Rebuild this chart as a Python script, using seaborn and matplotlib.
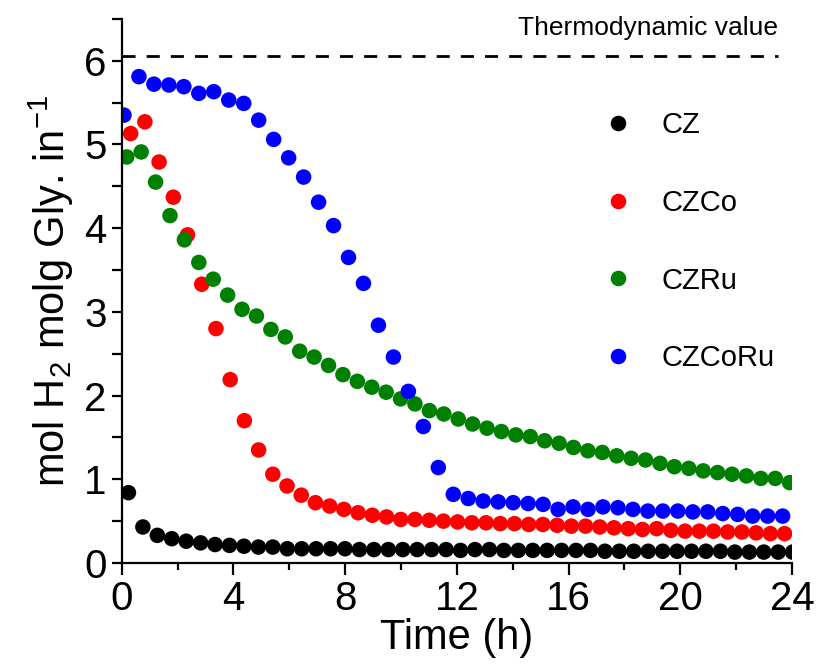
import numpy as np
import pandas as pd
import matplotlib
matplotlib.use("Agg")
import matplotlib.pyplot as plt
from matplotlib.lines import Line2D
import seaborn as sns

# sampling grid of each run (start, step in h, number of points)
t_cz = 0.24 + 0.517 * np.arange(47)
t_czco = 0.32 + 0.509 * np.arange(47)
t_czru = 0.18 + 0.516 * np.arange(47)
t_czcoru = 0.08 + 0.536 * np.arange(45)

cz = [0.84, 0.43, 0.33, 0.29, 0.26, 0.24, 0.22, 0.21, 0.20, 0.19,
      0.19, 0.17, 0.17, 0.17, 0.17, 0.17, 0.16, 0.16, 0.16, 0.16,
      0.16, 0.16, 0.16, 0.15, 0.16, 0.16, 0.15, 0.15, 0.15, 0.15,
      0.15, 0.15, 0.15, 0.14, 0.14, 0.14, 0.14, 0.14, 0.14, 0.14,
      0.14, 0.14, 0.13, 0.13, 0.13, 0.13, 0.13]
czco = [5.13, 5.27, 4.79, 4.37, 3.92, 3.33, 2.80, 2.19, 1.70, 1.35,
        1.06, 0.92, 0.81, 0.72, 0.68, 0.64, 0.60, 0.57, 0.55, 0.52,
        0.52, 0.51, 0.50, 0.49, 0.48, 0.48, 0.47, 0.47, 0.46, 0.46,
        0.45, 0.44, 0.44, 0.43, 0.42, 0.41, 0.40, 0.41, 0.39, 0.38,
        0.38, 0.38, 0.37, 0.37, 0.36, 0.35, 0.35]
czru = [4.85, 4.91, 4.55, 4.15, 3.86, 3.59, 3.39, 3.20, 3.03, 2.95,
        2.79, 2.70, 2.53, 2.46, 2.36, 2.25, 2.17, 2.10, 2.04, 1.96,
        1.90, 1.82, 1.78, 1.72, 1.66, 1.61, 1.57, 1.53, 1.51, 1.46,
        1.43, 1.38, 1.34, 1.32, 1.28, 1.25, 1.23, 1.19, 1.15, 1.13,
        1.10, 1.08, 1.06, 1.04, 1.01, 1.01, 0.96]
czcoru = [5.35, 5.81, 5.72, 5.71, 5.69, 5.61, 5.63, 5.53, 5.49, 5.29,
          5.06, 4.84, 4.61, 4.31, 4.03, 3.65, 3.34, 2.84, 2.46, 2.05,
          1.63, 1.14, 0.82, 0.77, 0.74, 0.73, 0.72, 0.71, 0.70, 0.64,
          0.67, 0.64, 0.67, 0.66, 0.64, 0.62, 0.62, 0.62, 0.61, 0.61,
          0.59, 0.58, 0.56, 0.56, 0.56]

samples = ["CZ", "CZCo", "CZRu", "CZCoRu"]
colors = {"CZ": "black", "CZCo": "#ff0000", "CZRu": "#008000", "CZCoRu": "#0000ff"}
thermo_value = 6.06

df = pd.concat([
    pd.DataFrame({"time": t_cz, "h2": cz, "sample": "CZ"}),
    pd.DataFrame({"time": t_czco, "h2": czco, "sample": "CZCo"}),
    pd.DataFrame({"time": t_czru, "h2": czru, "sample": "CZRu"}),
    pd.DataFrame({"time": t_czcoru, "h2": czcoru, "sample": "CZCoRu"}),
])

sns.set_style("ticks", {"text.color": "black", "axes.labelcolor": "black",
                        "xtick.color": "black", "ytick.color": "black",
                        "axes.edgecolor": "black"})
plt.rcParams["font.family"] = ["Liberation Sans", "DejaVu Sans"]

fig = plt.figure(figsize=(8.17, 6.71), dpi=100)
ax = fig.add_axes([0.149, 0.161, 0.8204, 0.8109])

sns.scatterplot(data=df, x="time", y="h2", hue="sample", hue_order=samples,
                palette=colors, s=125, linewidth=0, legend=False, ax=ax)

ax.plot([0, 23.5], [thermo_value, thermo_value], color="black", lw=2,
        dashes=(4.7, 4.0))
ax.text(23.5, 6.39, "Thermodynamic value", ha="right", va="center", fontsize=19)

ax.set_xlim(0, 24)
ax.set_ylim(0, 6.5)
ax.set_xticks(range(0, 25, 4))
ax.set_xticks(range(2, 24, 4), minor=True)
ax.set_yticks(range(0, 7))
ax.set_yticks(np.arange(0.5, 6.6, 1), minor=True)

sns.despine(ax=ax)
for s in ["left", "bottom"]:
    ax.spines[s].set_linewidth(1.6)
ax.tick_params(axis="both", which="major", labelsize=29, width=1.6, pad=4)
ax.tick_params(axis="x", which="major", length=8.5)
ax.tick_params(axis="x", which="minor", length=5, width=1.6)
ax.tick_params(axis="y", which="both", length=7, width=1.6)

ax.set_xlabel("Time (h)", fontsize=30, labelpad=0)
ax.set_ylabel("mol H$_\\mathregular{2}$ molg Gly. in$^\\mathregular{-1}$",
              fontsize=30, labelpad=6)

handles = [Line2D([], [], ls="none", marker="o", markersize=11.2,
                  markerfacecolor=colors[n], markeredgewidth=0) for n in samples]
ax.legend(handles, samples, loc="upper left", bbox_to_anchor=(0.718, 0.83),
          frameon=False, fontsize=21, handlelength=1.0, handletextpad=1.0,
          labelspacing=1.7, borderpad=0, borderaxespad=0)

plt.savefig("out.png", dpi=100)
